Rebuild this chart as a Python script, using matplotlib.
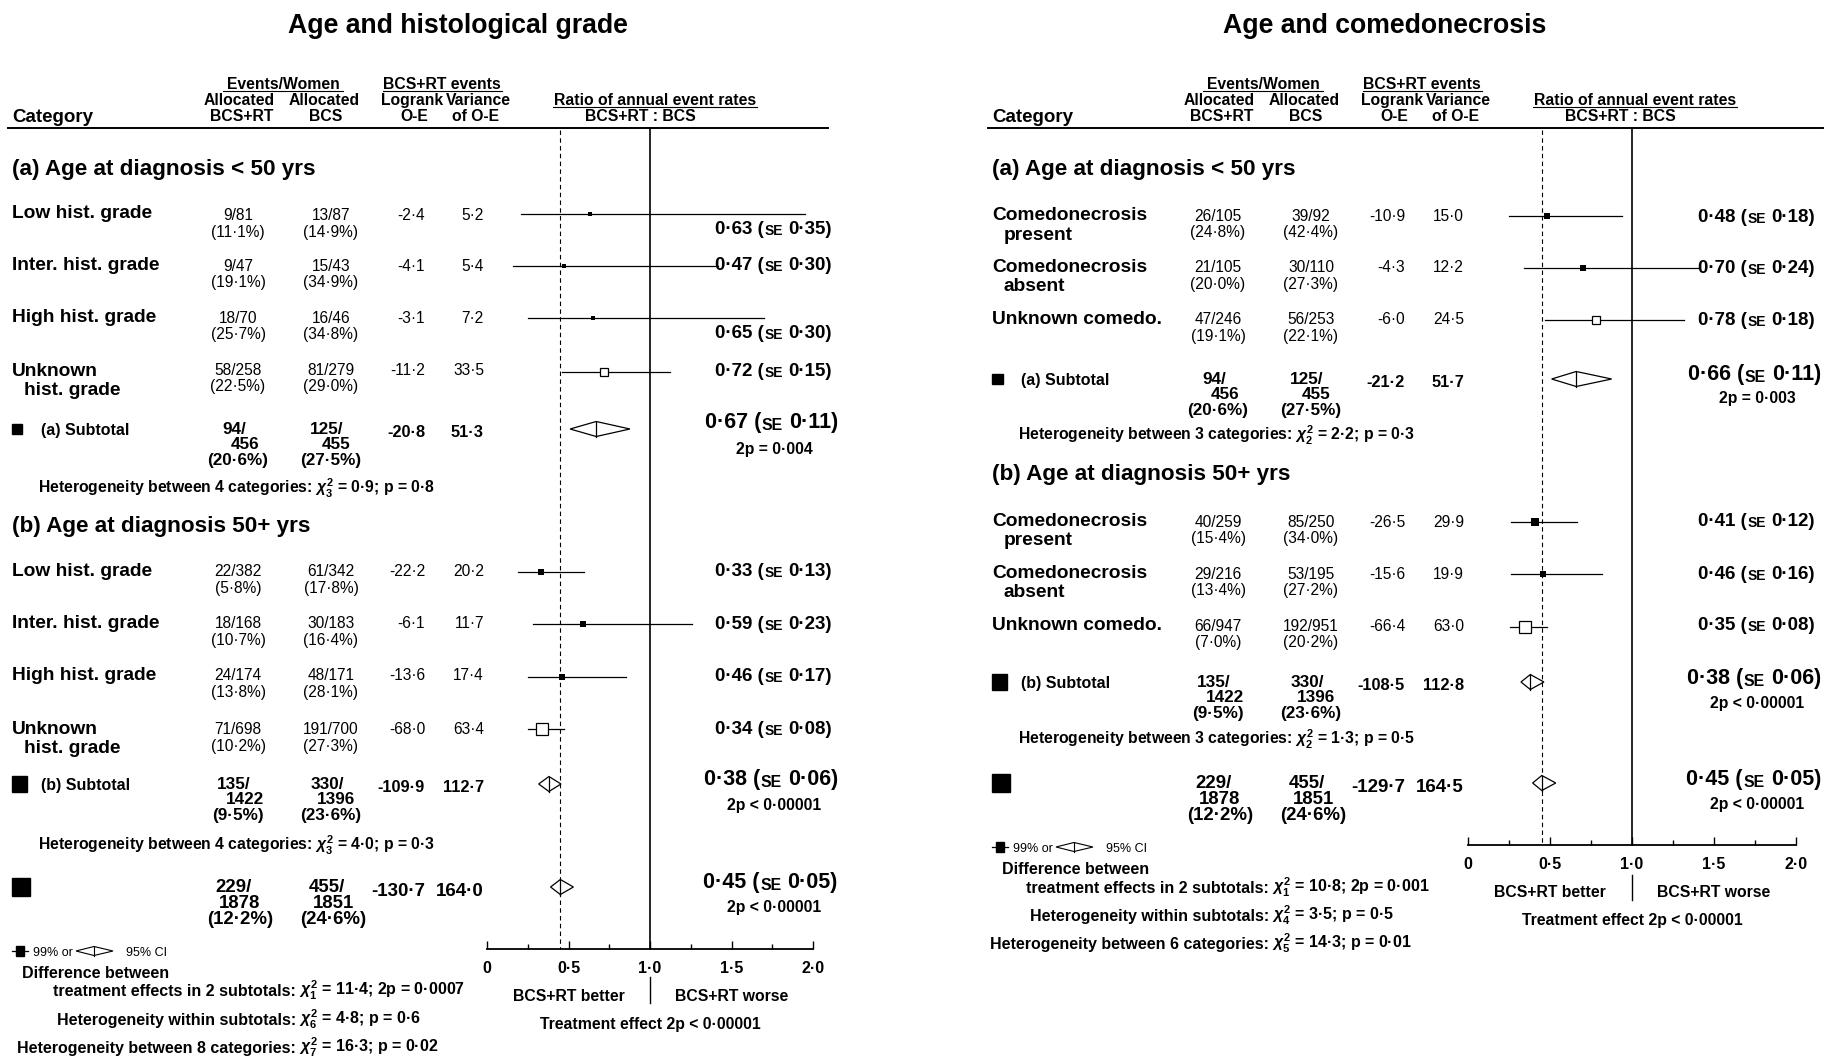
import numpy as np
import matplotlib
matplotlib.use("Agg")
import matplotlib.pyplot as plt
from matplotlib.patches import Polygon, Rectangle

plt.rcParams['font.family'] = ['Liberation Sans', 'DejaVu Sans']
plt.rcParams['mathtext.fontset'] = 'custom'
plt.rcParams['mathtext.rm'] = 'Liberation Sans:bold'
plt.rcParams['mathtext.it'] = 'Liberation Sans:italic:bold'
plt.rcParams['mathtext.bf'] = 'Liberation Sans:bold'
plt.rcParams['mathtext.sf'] = 'Liberation Sans:bold'

# ===================== DATA : left panel =====================
L_title = "Age and histological grade"
L_groups = ["(a) Age at diagnosis < 50 yrs", "(b) Age at diagnosis 50+ yrs"]
L_cats_a = ["Low hist. grade", "Inter. hist. grade", "High hist. grade", "Unknown\nhist. grade"]
L_cats_b = ["Low hist. grade", "Inter. hist. grade", "High hist. grade", "Unknown\nhist. grade"]
L_rt_ev_a = [9, 9, 18, 58]
L_rt_n_a = [81, 47, 70, 258]
L_rt_pct_a = [11.1, 19.1, 25.7, 22.5]
L_bcs_ev_a = [13, 15, 16, 81]
L_bcs_n_a = [87, 43, 46, 279]
L_bcs_pct_a = [14.9, 34.9, 34.8, 29.0]
L_oe_a = [-2.4, -4.1, -3.1, -11.2]
L_var_a = [5.2, 5.4, 7.2, 33.5]
L_rr_a = [0.63, 0.47, 0.65, 0.72]
L_se_a = [0.35, 0.30, 0.30, 0.15]
L_lo_a = [0.21, 0.16, 0.25, 0.46]
L_hi_a = [1.95, 1.42, 1.70, 1.12]
L_open_a = [False, False, False, True]

L_rt_ev_b = [22, 18, 24, 71]
L_rt_n_b = [382, 168, 174, 698]
L_rt_pct_b = [5.8, 10.7, 13.8, 10.2]
L_bcs_ev_b = [61, 30, 48, 191]
L_bcs_n_b = [342, 183, 171, 700]
L_bcs_pct_b = [17.8, 16.4, 28.1, 27.3]
L_oe_b = [-22.2, -6.1, -13.6, -68.0]
L_var_b = [20.2, 11.7, 17.4, 63.4]
L_rr_b = [0.33, 0.59, 0.46, 0.34]
L_se_b = [0.13, 0.23, 0.17, 0.08]
L_lo_b = [0.19, 0.28, 0.25, 0.25]
L_hi_b = [0.595, 1.26, 0.85, 0.475]
L_open_b = [False, False, False, True]

# subtotals: (a), (b), overall
L_s_rt_ev = [94, 135, 229]
L_s_rt_n = [456, 1422, 1878]
L_s_rt_pct = [20.6, 9.5, 12.2]
L_s_bcs_ev = [125, 330, 455]
L_s_bcs_n = [455, 1396, 1851]
L_s_bcs_pct = [27.5, 23.6, 24.6]
L_s_oe = [-20.8, -109.9, -130.7]
L_s_var = [51.3, 112.7, 164.0]
L_s_rr = [0.67, 0.38, 0.45]
L_s_se = [0.11, 0.06, 0.05]
L_s_lo = [0.51, 0.317, 0.39]
L_s_hi = [0.877, 0.454, 0.53]
L_s_p = ["2p = 0\u00b7004", "2p < 0\u00b700001", "2p < 0\u00b700001"]
L_het_k = [4, 4]
L_het_df = [3, 3]
L_het_chi = [0.9, 4.0]
L_het_p = ["0\u00b78", "0\u00b73"]
L_diff = [1, 11.4, "2p = 0\u00b70007"]
L_within = [6, 4.8, "p = 0\u00b76"]
L_between = [8, 7, 16.3, "p = 0\u00b702"]
L_treat_p = "2p < 0\u00b700001"

# ===================== DATA : right panel =====================
R_title = "Age and comedonecrosis"
R_groups = ["(a) Age at diagnosis < 50 yrs", "(b) Age at diagnosis 50+ yrs"]
R_cats_a = ["Comedonecrosis\npresent", "Comedonecrosis\nabsent", "Unknown comedo."]
R_cats_b = ["Comedonecrosis\npresent", "Comedonecrosis\nabsent", "Unknown comedo."]
R_rt_ev_a = [26, 21, 47]
R_rt_n_a = [105, 105, 246]
R_rt_pct_a = [24.8, 20.0, 19.1]
R_bcs_ev_a = [39, 30, 56]
R_bcs_n_a = [92, 110, 253]
R_bcs_pct_a = [42.4, 27.3, 22.1]
R_oe_a = [-10.9, -4.3, -6.0]
R_var_a = [15.0, 12.2, 24.5]
R_rr_a = [0.48, 0.70, 0.78]
R_se_a = [0.18, 0.24, 0.18]
R_lo_a = [0.25, 0.34, 0.47]
R_hi_a = [0.94, 1.40, 1.32]
R_open_a = [False, False, True]

R_rt_ev_b = [40, 29, 66]
R_rt_n_b = [259, 216, 947]
R_rt_pct_b = [15.4, 13.4, 7.0]
R_bcs_ev_b = [85, 53, 192]
R_bcs_n_b = [250, 195, 951]
R_bcs_pct_b = [34.0, 27.2, 20.2]
R_oe_b = [-26.5, -15.6, -66.4]
R_var_b = [29.9, 19.9, 63.0]
R_rr_b = [0.41, 0.46, 0.35]
R_se_b = [0.12, 0.16, 0.08]
R_lo_b = [0.26, 0.26, 0.256]
R_hi_b = [0.663, 0.817, 0.483]
R_open_b = [False, False, True]

R_s_rt_ev = [94, 135, 229]
R_s_rt_n = [456, 1422, 1878]
R_s_rt_pct = [20.6, 9.5, 12.2]
R_s_bcs_ev = [125, 330, 455]
R_s_bcs_n = [455, 1396, 1851]
R_s_bcs_pct = [27.5, 23.6, 24.6]
R_s_oe = [-21.2, -108.5, -129.7]
R_s_var = [51.7, 112.8, 164.5]
R_s_rr = [0.66, 0.38, 0.45]
R_s_se = [0.11, 0.06, 0.05]
R_s_lo = [0.51, 0.323, 0.394]
R_s_hi = [0.876, 0.463, 0.535]
R_s_p = ["2p = 0\u00b7003", "2p < 0\u00b700001", "2p < 0\u00b700001"]
R_het_k = [3, 3]
R_het_df = [2, 2]
R_het_chi = [2.2, 1.3]
R_het_p = ["0\u00b73", "0\u00b75"]
R_diff = [1, 10.8, "2p = 0\u00b7001"]
R_within = [4, 3.5, "p = 0\u00b75"]
R_between = [6, 5, 14.3, "p = 0\u00b701"]
R_treat_p = "2p < 0\u00b700001"

tick_vals = [0, 0.5, 1.0, 1.5, 2.0]
tick_labels = ["0", "0\u00b75", "1\u00b70", "1\u00b75", "2\u00b70"]
minor_vals = [0.25, 0.75, 1.25, 1.75]

# ===================== build panel tables =====================
def panel(P):
    g = globals()
    D = {'title': g[P + '_title'], 'groups': g[P + '_groups'], 'rows': []}
    for s in ('a', 'b'):
        keys = ['cats', 'rt_ev', 'rt_n', 'rt_pct', 'bcs_ev', 'bcs_n', 'bcs_pct',
                'oe', 'var', 'rr', 'se', 'lo', 'hi', 'open']
        D['rows'].append({k: g[f"{P}_{k}_{s}"] for k in keys})
    for k in ['rt_ev', 'rt_n', 'rt_pct', 'bcs_ev', 'bcs_n', 'bcs_pct', 'oe', 'var',
              'rr', 'se', 'lo', 'hi', 'p']:
        D['s_' + k] = g[f"{P}_s_{k}"]
    for k in ['het_k', 'het_df', 'het_chi', 'het_p', 'diff', 'within', 'between', 'treat_p']:
        D[k] = g[f"{P}_{k}"]
    return D

# layout (pixel positions)
GL = dict(dx=0, title_x=458, rule=(8, 828), fx=(487, 813), top=128, axis_y=949,
          sec_y=[167, 524],
          ci_y=[[214, 266, 318, 372], [572, 624, 677, 729]],
          lab_y=[[212, 263, 316, 369], [570, 622, 674, 727]],
          num_y=[[214, 265, 317, 369], [570, 622, 674, 728]],
          rat_y=[[227, 263, 331, 369], [569, 622, 674, 727]],
          sub_y=[428, 783, 886], sub_ry=[420, 777, 880], sub_py=[448, 804, 906],
          het_y=[488, 845], leg_y=951, diff_y=(972, 990), within_y=1019, between_y=1047,
          chi_x=299, ratio_xr=832, sep=(977, 1003), bw_y=995, treat_y=1023)
GR = dict(dx=980, title_x=1385, rule=(988, 1823), fx=(1468, 1796), top=128, axis_y=845,
          sec_y=[167, 472],
          ci_y=[[216, 268, 320], [522, 574, 627]],
          lab_y=[[214, 265, 317], [519, 571, 623]],
          num_y=[[215, 266, 318], [521, 573, 625]],
          rat_y=[[215, 266, 318], [519, 572, 623]],
          sub_y=[378, 681, 782], sub_ry=[372, 676, 777], sub_py=[397, 702, 803],
          het_y=[435, 739], leg_y=847, diff_y=(868, 887), within_y=915, between_y=943,
          chi_x=1272, ratio_xr=1815, sep=(875, 900), bw_y=891, treat_y=919)

W, H = 1827, 1059
fig = plt.figure(figsize=(W / 100, H / 100), dpi=100)
fig.patch.set_facecolor('white')
lay = fig.add_axes([0, 0, 1, 1])
lay.set_xlim(0, W)
lay.set_ylim(H, 0)
lay.axis('off')
lay.set_zorder(5)


def f1(v):
    return f"{v:.1f}".replace('.', '\u00b7')


def f2(v):
    return f"{v:.2f}".replace('.', '\u00b7')


def txt(x, y, s, size, weight='bold', ha='left', va='center_baseline', **kw):
    return lay.text(x, y, s, fontsize=size, fontweight=weight, ha=ha, va=va, **kw)


def base(y, size):
    return y + 0.36 * size * 100 / 72


def chi(df):
    return r"$\chi^2_{" + str(df) + r"}$"


def ratio_label(xr, y, est, se, size):
    b = base(y, size)
    t3 = lay.text(xr, b, f2(se) + ")", fontsize=size, fontweight='bold', ha='right', va='baseline')
    t2 = lay.annotate("SE", xy=(0, 0), xycoords=t3, xytext=(-0.27 * size, 0),
                      textcoords='offset points', fontsize=size * 0.74, fontweight='bold',
                      ha='right', va='bottom')
    lay.annotate(f2(est) + " (", xy=(0, 0), xycoords=t2, xytext=(-0.6, 0),
                 textcoords='offset points', fontsize=size, fontweight='bold',
                 ha='right', va='bottom')


def side_px(var):
    return 1.35 * np.sqrt(var) + 0.8


def draw_panel(D, G):
    dx = G['dx']
    # ---- title & header
    txt(G['title_x'], 23, D['title'], 19.2, ha='center')
    hs = 11.3
    txt(12 + dx, 115, "Category", 13.5)
    txt(283 + dx, 83, "Events/Women", hs, ha='center')
    lay.plot([223 + dx, 343 + dx], [91, 91], color='k', lw=0.8)
    txt(442 + dx, 83, "BCS+RT events", hs, ha='center')
    lay.plot([383 + dx, 502 + dx], [91, 91], color='k', lw=0.8)
    txt(239 + dx, 99, "Allocated", hs, ha='center')
    txt(324 + dx, 99, "Allocated", hs, ha='center')
    txt(242 + dx, 115, "BCS+RT", hs, ha='center')
    txt(326 + dx, 115, "BCS", hs, ha='center')
    txt(412 + dx, 99, "Logrank", hs, ha='center')
    txt(478 + dx, 99, "Variance", hs, ha='center')
    txt(414 + dx, 115, "O-E", hs, ha='center')
    txt(476 + dx, 115, "of O-E", hs, ha='center')
    txt(655 + dx, 99, "Ratio of annual event rates", hs, ha='center')
    lay.plot([553 + dx, 757 + dx], [107, 107], color='k', lw=0.8)
    txt(640 + dx, 115, "BCS+RT : BCS", hs, ha='center')
    lay.plot(G['rule'], [128, 128], color='k', lw=1.4)

    # ---- forest axes (x = ratio, y = row position in pixels)
    x0, x1 = G['fx']
    top, ay = G['top'], G['axis_y']
    ax = fig.add_axes([x0 / W, 1 - ay / H, (x1 - x0) / W, (ay - top) / H])
    ax.set_xlim(0, 2)
    ax.set_ylim(ay, top)
    ax.patch.set_alpha(0)
    for s in ('top', 'left', 'right'):
        ax.spines[s].set_visible(False)
    ax.spines['bottom'].set_linewidth(1.3)
    ax.set_yticks([])
    ax.set_xticks(tick_vals)
    ax.set_xticklabels(tick_labels)
    ax.set_xticks(minor_vals, minor=True)
    ax.tick_params(axis='x', which='major', direction='in', length=6, width=1.0, pad=8.5,
                   labelsize=11.5)
    ax.tick_params(axis='x', which='minor', direction='in', length=3.5, width=1.0)
    for lab in ax.get_xticklabels():
        lab.set_fontweight('bold')
    ax.plot([1, 1], [top, ay], color='k', lw=1.2, clip_on=False)
    tot = D['s_rr'][2]
    ax.plot([tot, tot], [top + 2, ay], color='k', lw=0.8, dashes=(4, 3), clip_on=False)
    ax.plot([1, 1], list(G['sep']), color='k', lw=1.0, clip_on=False)
    ax.text(0.5, G['bw_y'], "BCS+RT better", fontsize=11.3, fontweight='bold',
            ha='center', va='center_baseline')
    ax.text(1.5, G['bw_y'], "BCS+RT worse", fontsize=11.3, fontweight='bold',
            ha='center', va='center_baseline')
    ax.text(1.0, G['treat_y'], "Treatment effect " + D['treat_p'], fontsize=11.3,
            fontweight='bold', ha='center', va='center_baseline')

    c1, c2, c3, c4 = 238 + dx, 331 + dx, 425 + dx, 484 + dx
    xr = G['ratio_xr']
    for g in (0, 1):
        R = D['rows'][g]
        txt(12 + dx, G['sec_y'][g], D['groups'][g], 16.2)
        for i in range(len(R['cats'])):
            parts = R['cats'][i].split('\n')
            ly = G['lab_y'][g][i]
            txt(12 + dx, ly, parts[0], 13.8)
            if len(parts) > 1:
                txt(24 + dx, ly + 19.5, parts[1], 13.8)
            ny = G['num_y'][g][i]
            txt(c1, ny, f"{R['rt_ev'][i]}/{R['rt_n'][i]}", 11.2, 'normal', ha='center')
            txt(c1, ny + 16.5, f"({f1(R['rt_pct'][i])}%)", 11.2, 'normal', ha='center')
            txt(c2, ny, f"{R['bcs_ev'][i]}/{R['bcs_n'][i]}", 11.2, 'normal', ha='center')
            txt(c2, ny + 16.5, f"({f1(R['bcs_pct'][i])}%)", 11.2, 'normal', ha='center')
            txt(c3, ny, f1(R['oe'][i]), 11.2, 'normal', ha='right')
            txt(c4, ny, f1(R['var'][i]), 11.2, 'normal', ha='right')
            cy = G['ci_y'][g][i]
            ax.plot([R['lo'][i], R['hi'][i]], [cy, cy], color='k', lw=0.9, clip_on=False, zorder=2)
            op = R['open'][i]
            ax.plot(R['rr'][i], cy, marker='s', ms=side_px(R['var'][i]) * 0.72,
                    mfc='white' if op else 'k', mec='k', mew=0.9 if op else 0.0,
                    zorder=3, clip_on=False)
            ratio_label(xr, G['rat_y'][g][i], R['rr'][i], R['se'][i], 13.5)
        draw_summary(D, G, ax, g)
        hb = base(G['het_y'][g], 11.3)
        txt(38 + dx, hb, f"Heterogeneity between {D['het_k'][g]} categories: "
            + chi(D['het_df'][g]) + f" = {f1(D['het_chi'][g])}; p = {D['het_p'][g]}",
            11.3, va='baseline')
    draw_summary(D, G, ax, 2)

    # ---- legend
    ly = G['leg_y']
    lay.plot([12 + dx, 28 + dx], [ly, ly], color='k', lw=0.9)
    lay.add_patch(Rectangle((16 + dx, ly - 5), 8, 10, color='k'))
    txt(33 + dx, ly, "99% or", 9, 'normal')
    lay.add_patch(Polygon([(76 + dx, ly), (94 + dx, ly - 4.5), (113 + dx, ly), (94 + dx, ly + 4.5)],
                          closed=True, fill=False, ec='k', lw=0.8))
    lay.plot([94 + dx, 94 + dx], [ly - 4.5, ly + 4.5], color='k', lw=0.8)
    txt(126 + dx, ly, "95% CI", 9, 'normal')

    # ---- footer statistics
    fs = 11.5
    cx = G['chi_x']
    txt(22 + dx, G['diff_y'][0], "Difference between", fs)
    b = base(G['diff_y'][1], fs)
    txt(cx - 3, b, "treatment effects in 2 subtotals:", fs, ha='right', va='baseline')
    txt(cx, b, chi(D['diff'][0]) + f" = {f1(D['diff'][1])}; {D['diff'][2]}", fs, va='baseline')
    b = base(G['within_y'], fs)
    txt(cx - 3, b, "Heterogeneity within subtotals:", fs, ha='right', va='baseline')
    txt(cx, b, chi(D['within'][0]) + f" = {f1(D['within'][1])}; {D['within'][2]}", fs, va='baseline')
    b = base(G['between_y'], fs)
    txt(cx - 3, b, f"Heterogeneity between {D['between'][0]} categories:", fs, ha='right', va='baseline')
    txt(cx, b, chi(D['between'][1]) + f" = {f1(D['between'][2])}; {D['between'][3]}", fs, va='baseline')


def draw_summary(D, G, ax, k):
    dx = G['dx']
    sy = G['sub_y'][k]
    s = side_px(D['s_var'][k])
    lay.add_patch(Rectangle((12 + dx, sy + 1 - s / 2), s, s, color='k'))
    big = (k == 2)
    ns = 13.4 if big else 12.3
    sp = 16.0 if big else 15.4
    if not big:
        txt(41 + dx, sy + 1, "(a) Subtotal" if k == 0 else "(b) Subtotal", 11.5)
    c1, c2 = 238 + dx, 331 + dx
    txt(c1 - 4, sy, f"{D['s_rt_ev'][k]}/", ns, ha='center')
    txt(c1 + (2 if big else 7), sy + sp, f"{D['s_rt_n'][k]}", ns, ha='center')
    txt(c1 + (2 if big else 0), sy + 2 * sp, f"({f1(D['s_rt_pct'][k])}%)", ns, ha='center')
    txt(c2 - 4, sy, f"{D['s_bcs_ev'][k]}/", ns, ha='center')
    txt(c2 + (2 if big else 5), sy + sp, f"{D['s_bcs_n'][k]}", ns, ha='center')
    txt(c2 + (2 if big else 0), sy + 2 * sp, f"({f1(D['s_bcs_pct'][k])}%)", ns, ha='center')
    os_ = 13.5 if big else 11.8
    txt(425 + dx, sy + 3, f1(D['s_oe'][k]), os_, ha='right')
    txt(484 + dx, sy + 3, f1(D['s_var'][k]), os_, ha='right')
    lo, est, hi = D['s_lo'][k], D['s_rr'][k], D['s_hi'][k]
    h = 7.5
    dy = sy + 1
    ax.add_patch(Polygon([(lo, dy), (est, dy - h), (hi, dy), (est, dy + h)], closed=True,
                         fc='white', ec='k', lw=0.9, zorder=3, clip_on=False))
    ax.plot([est, est], [dy - h, dy + h], color='k', lw=0.9, zorder=4, clip_on=False)
    xr = G['ratio_xr']
    ratio_label(xr + 6, G['sub_ry'][k], est, D['s_se'][k], 15.5)
    txt(xr - 58, G['sub_py'][k], D['s_p'][k], 11.3, ha='center')


draw_panel(panel('L'), GL)
draw_panel(panel('R'), GR)

fig.savefig("out.png", dpi=100, facecolor='white')
